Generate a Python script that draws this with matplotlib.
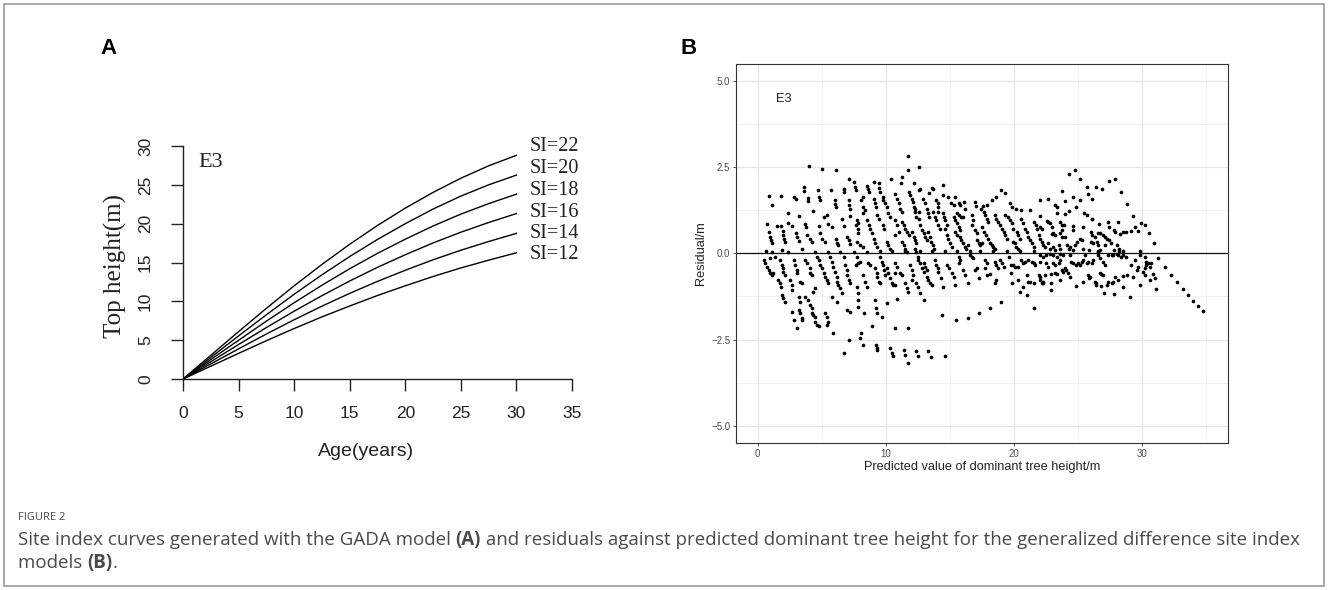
import matplotlib
matplotlib.use("Agg")
import matplotlib.pyplot as plt
from matplotlib.patches import Rectangle
import numpy as np

# ── panel A: site index curves (top height by age) ───────────────────────────
ages = [0, 2.5, 5, 7.5, 10, 12.5, 15, 17.5, 20, 22.5, 25, 27.5, 30]
si_levels = [22, 20, 18, 16, 14, 12]
si_22 = [0, 3.05, 6.1, 9.1, 12.0, 14.75, 17.35, 19.77, 22.0, 24.03, 25.85, 27.45, 28.8]
si_20 = [0, 2.77, 5.55, 8.27, 10.91, 13.41, 15.77, 17.97, 20.0, 21.88, 23.55, 25.0, 26.25]
si_18 = [0, 2.5, 4.99, 7.45, 9.82, 12.07, 14.2, 16.18, 18.0, 19.7, 21.23, 22.58, 23.8]
si_16 = [0, 2.22, 4.44, 6.62, 8.73, 10.73, 12.62, 14.38, 16.0, 17.52, 18.9, 20.15, 21.3]
si_14 = [0, 1.94, 3.88, 5.79, 7.63, 9.38, 11.03, 12.57, 14.0, 15.35, 16.58, 17.7, 18.75]
si_12 = [0, 1.65, 3.3, 4.93, 6.5, 8.0, 9.4, 10.75, 12.0, 13.2, 14.3, 15.3, 16.25]

# ── panel B: residuals vs predicted dominant height ────
resid_low_up = [
    (4.0, 2.53), (5.05, 2.46), (6.1, 2.43), (7.1, 2.15), (7.5, 2.08), (9.1, 2.08), (9.5, 2.05), (10.4, 2.17),
    (3.6, 1.91), (3.65, 1.82), (4.7, 1.83), (5.7, 1.85), (6.7, 1.86), (6.75, 1.79), (7.6, 1.91), (7.7, 1.84),
    (8.5, 1.96), (8.6, 1.86), (8.7, 1.79), (9.5, 1.90), (9.55, 1.79),
    (0.9, 1.66), (1.85, 1.67), (2.85, 1.64), (2.95, 1.59), (3.9, 1.61), (3.95, 1.52), (4.8, 1.64), (4.85, 1.55),
    (6.0, 1.55), (6.05, 1.42), (6.1, 1.34), (7.15, 1.54), (7.15, 1.40), (7.2, 1.30), (8.2, 1.64), (8.1, 1.54),
    (8.25, 1.35), (8.4, 1.26), (9.1, 1.57), (9.15, 1.45), (9.2, 1.33), (9.75, 1.64), (9.8, 1.55), (9.95, 1.45),
    (10.1, 1.35), (1.15, 1.40), (4.3, 1.22), (2.35, 1.16), (3.25, 1.07), (5.2, 1.06), (5.4, 1.11), (6.55, 1.01),
    (7.2, 1.09), (7.75, 0.97), (7.85, 0.87), (8.25, 1.16), (8.5, 0.97), (9.3, 1.11), (9.45, 1.01), (10.15, 1.16),
    (10.3, 1.06), (0.7, 0.84), (1.5, 0.80), (1.8, 0.78), (2.4, 0.88), (2.7, 0.79), (3.7, 0.85), (3.8, 0.77),
    (4.75, 0.79), (5.45, 0.84), (5.8, 0.77), (6.75, 0.80), (7.7, 0.82), (7.8, 0.72), (7.85, 0.58), (8.7, 0.82),
    (8.8, 0.72), (8.9, 0.58), (9.8, 0.82), (9.9, 0.72),
    (0.9, 0.61), (0.95, 0.48), (1.0, 0.39), (1.1, 0.29), (1.95, 0.65), (2.0, 0.53), (2.05, 0.43), (2.15, 0.32),
    (2.95, 0.58), (3.05, 0.48), (3.2, 0.37), (3.85, 0.53), (4.1, 0.43), (4.2, 0.34), (4.9, 0.58), (5.0, 0.43),
    (5.25, 0.34), (6.1, 0.41), (6.2, 0.31), (6.3, 0.24), (6.95, 0.48), (7.1, 0.39), (7.2, 0.26), (7.75, 0.34),
    (8.0, 0.24), (8.2, 0.19), (9.05, 0.43), (9.15, 0.29), (9.3, 0.19), (10.1, 0.34), (10.2, 0.24), (10.35, 0.14),
    (0.65, 0.07), (1.15, 0.03), (1.9, 0.10), (2.4, 0.05), (3.45, 0.14), (4.5, 0.05), (5.5, 0.05), (6.45, 0.05),
    (7.5, 0.05), (8.5, 0.05), (9.55, 0.07), (10.45, 0.07),
]
resid_low_down = [
    (0.5, -0.19), (0.55, -0.29), (0.7, -0.39), (0.85, -0.48), (0.95, -0.58), (1.1, -0.63), (1.2, -0.58),
    (0.95, -0.14), (1.35, -0.10), (1.75, -0.19), (1.9, -0.34), (1.95, -0.43), (2.0, -0.53), (2.15, -0.63),
    (1.6, -0.77), (1.7, -0.87), (1.8, -0.97), (1.9, -1.21), (2.0, -1.30), (2.15, -1.40),
    (2.55, -0.77), (2.65, -0.92), (2.65, -1.06), (2.65, -1.69), (2.85, -1.93), (3.1, -2.17),
    (2.8, -0.19), (2.9, -0.34), (3.05, -0.48), (3.05, -0.58), (3.3, -0.82), (3.45, -0.87), (3.2, -1.26),
    (3.3, -1.40), (3.2, -1.64), (3.3, -1.74), (3.45, -1.88), (3.45, -1.93),
    (3.7, -0.19), (3.85, -0.29), (4.05, -0.43), (4.1, -0.58), (4.2, -0.63), (3.7, -1.26), (3.95, -1.35),
    (4.1, -1.50), (4.2, -1.59), (4.2, -1.74), (4.35, -1.79), (4.5, -1.84), (4.5, -1.98), (4.6, -2.08),
    (4.75, -2.12), (4.35, -1.11), (4.5, -1.01),
    (4.6, -0.10), (4.75, -0.19), (4.85, -0.34), (5.0, -0.43), (5.15, -0.58), (5.25, -0.68), (5.4, -0.77),
    (5.5, -0.87), (5.25, -1.74), (5.4, -1.84), (5.5, -1.98), (5.4, -2.08), (5.8, -1.26), (5.9, -2.32),
    (5.65, -0.10), (5.8, -0.24), (5.9, -0.39), (6.05, -0.53), (6.2, -0.68), (6.2, -0.82), (6.3, -0.92),
    (6.45, -1.01), (6.55, -1.16), (6.2, -1.40),
    (6.7, -0.10), (6.8, -0.34), (6.95, -0.48), (6.95, -0.63), (7.1, -0.77), (7.2, -0.87), (6.95, -1.64),
    (7.2, -1.69), (7.1, -2.51), (6.7, -2.90),
    (7.75, -0.10), (7.7, -0.34), (7.85, -0.29), (8.0, -0.24), (7.75, -0.97), (7.85, -1.16), (7.85, -1.35),
    (7.85, -1.55), (8.25, -0.63), (8.4, -0.82), (8.5, -0.97), (8.3, -1.74), (8.1, -2.32), (8.0, -2.46),
    (8.25, -2.66), (8.65, -0.29), (8.8, -0.34), (8.9, -2.12), (9.15, -0.43), (9.3, -0.58), (9.3, -0.68),
    (9.45, -0.82), (9.55, -0.87), (9.15, -1.35), (9.25, -1.59), (9.3, -1.74), (9.7, -1.84), (9.25, -2.66),
    (9.3, -2.75), (9.35, -2.80), (9.55, -0.10), (9.7, -0.24), (9.8, -0.34), (9.85, -0.48), (9.95, -0.63),
    (10.1, -0.43), (10.2, -0.58), (10.35, -0.72), (10.45, -0.87), (10.6, -0.92), (10.1, -1.45),
    (10.35, -2.75), (10.45, -2.90), (10.55, -2.99),
]
resid_mid_up = [
    (11.7, 2.83), (11.7, 2.43), (12.6, 2.49), (11.3, 2.22), (11.2, 2.05), (12.2, 2.03), (11.8, 1.79),
    (12.6, 1.84), (12.7, 1.86), (13.6, 1.90), (13.7, 1.86), (13.4, 1.76), (14.5, 1.99), (14.5, 1.69),
    (14.9, 1.64), (15.4, 1.62), (15.1, 1.45), (15.3, 1.40), (15.7, 1.45), (15.8, 1.40), (16.1, 1.48),
    (16.2, 1.30), (17.0, 1.50), (17.05, 1.37), (17.45, 1.30), (17.6, 1.37), (17.9, 1.40), (18.3, 1.55),
    (18.6, 1.64), (19.0, 1.84), (19.3, 1.74), (19.7, 1.45), (19.85, 1.35), (20.2, 1.30), (20.6, 1.26),
    (21.3, 1.26),
    (10.7, 1.71), (10.85, 1.59), (11.0, 1.45), (11.1, 1.30), (11.25, 1.21), (11.9, 1.69), (12.05, 1.59),
    (12.1, 1.48), (12.2, 1.35), (12.25, 1.21), (12.9, 1.59), (13.1, 1.45), (13.2, 1.30), (13.3, 1.16),
    (13.4, 1.06), (13.95, 1.55), (14.1, 1.45), (14.05, 1.35), (14.1, 1.21), (13.7, 1.21), (13.85, 1.06),
    (13.95, 0.97), (14.1, 0.82), (14.25, 0.72), (12.3, 1.30), (12.4, 1.06),
    (11.25, 0.92), (11.4, 0.82), (11.5, 0.72), (11.65, 0.63), (11.8, 0.53), (10.7, 0.97), (10.85, 0.82),
    (11.0, 0.63), (10.7, 0.53), (12.6, 1.21), (12.6, 1.01), (12.7, 0.82), (12.8, 0.68), (12.95, 0.58),
    (13.1, 0.48), (13.2, 0.39), (12.05, 0.63), (12.2, 0.48), (12.3, 0.39), (12.35, 0.29), (11.25, 0.34),
    (11.4, 0.24), (11.5, 0.14), (11.65, 0.05), (12.3, 0.14), (12.4, 0.05),
    (13.3, 0.63), (13.45, 0.48), (13.5, 0.34), (13.7, 0.24), (13.8, 0.14), (14.5, 1.16), (14.55, 1.06),
    (14.65, 0.97), (14.8, 0.82), (14.65, 0.72), (14.8, 0.53), (14.9, 0.43), (15.0, 0.29), (15.15, 0.19),
    (15.3, 1.06), (15.4, 0.97), (15.55, 0.87), (15.7, 0.77), (15.8, 0.68), (15.55, 1.16), (15.7, 1.11),
    (15.9, 1.06), (16.05, 1.06), (15.4, 0.63), (15.55, 0.53), (15.8, 0.48), (15.9, 0.39), (16.05, 0.29),
    (16.2, 0.19), (16.3, 0.14), (16.45, 0.24),
    (16.7, 1.11), (16.85, 0.97), (16.7, 0.82), (17.0, 0.68), (17.1, 0.58), (17.1, 0.39), (17.25, 0.29),
    (17.35, 0.24), (17.5, 0.29), (17.65, 1.21), (17.75, 1.11), (17.9, 1.01), (18.0, 0.92), (17.5, 0.77),
    (17.65, 0.63), (17.8, 0.53), (18.0, 0.43), (18.15, 0.29), (18.3, 0.24), (18.4, 0.19), (18.55, 0.14),
    (18.55, 1.11), (18.65, 1.01), (18.8, 0.92), (18.9, 0.82), (19.05, 0.72), (19.2, 0.63), (19.3, 0.53),
    (19.45, 0.43), (19.3, 1.11), (19.55, 1.06), (19.7, 0.97), (19.85, 0.87), (19.95, 0.34), (20.1, 0.29),
    (20.2, 0.19), (20.35, 0.14), (19.95, 0.72), (20.25, 0.63), (20.35, 0.53), (20.5, 0.43),
    (20.6, 1.01), (20.75, 0.87), (20.9, 0.72), (21.0, 0.61), (21.15, 0.48), (21.3, 0.39), (21.4, 0.29),
    (21.55, 0.19), (21.55, 0.92), (21.7, 0.82), (21.8, 0.72), (21.95, 0.53), (22.05, 0.43), (22.2, 0.34),
    (11.5, 0.07), (12.7, 0.07), (13.6, 0.07), (14.6, 0.07), (15.55, 0.07), (16.6, 0.07), (17.35, 0.07),
    (18.4, 0.07), (19.45, 0.07), (20.5, 0.07), (21.55, 0.07),
]
resid_mid_down = [
    (10.7, -0.29), (10.85, -0.39), (10.7, -0.58), (11.1, -0.58), (11.25, -0.63), (10.7, -0.92),
    (11.5, -0.87), (11.65, -1.01), (11.7, -1.11), (10.85, -1.33), (10.7, -2.17), (11.7, -2.17),
    (11.9, -0.34), (12.05, -0.48), (12.1, -0.63), (12.05, -0.77), (12.4, -0.87), (12.55, -0.97),
    (12.7, -1.16), (12.95, -1.35), (12.55, -0.10), (12.55, -0.19), (12.7, -0.29), (12.8, -0.43),
    (12.95, -0.53), (13.2, -0.68), (13.3, -0.77), (13.45, -0.87), (13.6, -0.92), (12.95, -0.29),
    (13.1, -0.39), (13.2, -0.48),
    (13.85, -0.19), (13.95, -0.34), (14.05, -0.43), (14.1, -0.53), (14.35, -0.72), (14.5, -0.97),
    (14.4, -1.79), (14.8, -0.34), (14.95, -0.43), (15.15, -0.58), (15.3, -0.68), (15.4, -0.92),
    (15.5, -1.93), (15.7, -0.10), (15.8, -0.19), (15.7, -0.29), (16.05, -0.48), (16.2, -0.63),
    (16.4, -0.87), (16.4, -1.87), (16.6, -0.05), (16.7, -0.10), (16.85, -0.14), (16.95, -0.48),
    (17.1, -0.43), (17.25, -0.72), (17.3, -1.74),
    (17.75, -0.19), (17.9, -0.29), (17.75, -0.43), (17.9, -0.63), (18.15, -0.60), (18.15, -1.59),
    (18.55, -0.24), (18.65, -0.34), (18.8, -0.43), (18.55, -0.87), (18.65, -0.77), (19.0, -1.42),
    (18.9, -0.19), (19.05, -0.29), (19.2, -0.39), (19.6, -0.10), (19.75, -0.34), (19.75, -0.58),
    (19.85, -0.87), (19.95, -0.34), (20.1, -0.39), (20.35, -0.39), (20.35, -0.77), (20.5, -1.11),
    (20.75, -0.97), (21.0, -1.21), (20.6, -0.19), (20.75, -0.29), (20.9, -0.24), (21.15, -0.19),
    (21.4, -0.24), (21.55, -0.29), (21.65, -0.34), (21.0, -0.63), (21.15, -0.82), (21.3, -0.82),
    (21.55, -0.87), (21.95, -0.63), (22.05, -0.77), (22.2, -0.87), (21.6, -1.59),
    (11.4, -2.80), (11.5, -2.95), (11.75, -3.19), (12.4, -2.82), (12.55, -2.99), (13.3, -2.82),
    (13.5, -3.01), (14.6, -2.99),
]
resid_high_up = [
    (24.3, 2.29), (24.8, 2.42), (25.2, 2.15), (27.45, 2.11), (27.95, 2.15), (25.7, 1.91), (26.4, 1.91),
    (26.9, 1.88), (28.4, 1.79), (23.75, 1.82), (25.8, 1.71), (26.15, 1.59), (22.7, 1.59), (22.05, 1.55),
    (24.65, 1.64), (24.0, 1.53), (25.2, 1.55), (28.85, 1.42),
    (23.2, 1.40), (23.35, 1.35), (24.9, 1.33), (24.3, 1.24), (24.0, 1.14), (23.35, 1.16), (25.5, 1.16),
    (22.05, 1.09), (29.35, 1.08), (26.15, 1.00), (28.15, 0.92),
    (22.6, 0.95), (22.7, 0.92), (22.85, 0.87), (23.0, 0.77), (23.6, 0.92), (23.75, 0.82), (23.95, 0.82),
    (24.65, 0.79), (24.6, 0.68), (25.45, 0.77), (26.7, 0.85), (27.45, 0.77), (29.95, 0.89), (30.25, 0.82),
    (29.5, 0.75), (29.7, 0.66), (29.2, 0.65), (28.75, 0.63), (28.3, 0.55), (28.5, 0.61), (27.8, 0.68),
    (27.9, 0.61), (30.6, 0.58),
    (22.05, 0.77), (22.2, 0.72), (23.0, 0.55), (23.1, 0.58), (23.25, 0.53), (23.6, 0.58), (23.75, 0.48),
    (24.0, 0.48), (25.2, 0.43), (25.3, 0.39), (24.95, 0.34), (24.8, 0.24), (26.0, 0.63), (26.1, 0.53),
    (26.35, 0.48), (26.6, 0.58), (26.75, 0.58), (27.0, 0.53), (27.15, 0.48), (27.3, 0.43), (27.45, 0.39),
    (27.6, 0.29), (27.15, 0.24), (30.95, 0.29),
    (26.0, 0.34), (26.2, 0.29), (26.5, 0.34), (26.6, 0.24), (22.3, 0.24), (22.45, 0.19), (22.7, 0.29),
    (22.85, 0.14), (23.1, 0.19), (23.25, 0.10), (23.5, 0.24), (23.6, 0.14), (24.15, 0.24), (24.3, 0.14),
    (24.4, 0.19), (24.65, 0.10), (25.45, 0.14), (25.85, 0.10), (26.6, 0.07), (26.75, 0.10), (27.8, 0.10),
    (28.2, 0.07), (28.5, 0.07), (29.9, 0.07), (28.05, 0.24), (28.2, 0.14), (27.4, 0.92), (26.1, 1.01),
    (25.7, 1.11), (23.75, 0.68),
]
resid_high_down = [
    (22.05, -0.05), (22.3, -0.10), (22.55, -0.05), (22.85, -0.02), (23.1, -0.05), (23.35, -0.10),
    (23.6, -0.02), (23.85, -0.05), (22.05, -0.24), (22.55, -0.29), (22.7, -0.39), (23.1, -0.29),
    (23.2, -0.34), (23.5, -0.29), (23.6, -0.19), (22.05, -0.68), (22.45, -0.63), (22.95, -0.60),
    (23.2, -0.58), (23.35, -0.60), (22.3, -0.82), (22.3, -0.87), (22.95, -0.87), (22.9, -1.06),
    (23.65, -0.77), (23.75, -0.48), (23.85, -0.53), (24.0, -0.43), (24.1, -0.48), (24.25, -0.58),
    (24.4, -0.68), (24.4, -0.05), (24.5, -0.24), (24.65, -0.29), (24.9, -0.34), (25.05, -0.29),
    (25.15, -0.34), (25.3, -0.24), (25.45, -0.19), (25.55, -0.05), (25.7, -0.29), (25.8, -0.24),
    (26.1, -0.29), (26.2, -0.19), (24.85, -0.94), (25.4, -0.84), (25.8, -0.63), (25.9, -0.72),
    (25.95, -0.68), (26.35, -0.82), (26.4, -0.87), (26.45, -0.92), (26.75, -0.58), (26.85, -0.60),
    (27.0, -0.63), (26.8, -0.94), (27.05, -1.16), (27.25, -0.92), (27.4, -0.82), (27.65, -0.87),
    (27.75, -0.82), (26.6, 0.05), (26.6, -0.05), (26.75, -0.14), (27.0, -0.24), (27.1, -0.34),
    (27.4, -0.05), (27.65, -0.05), (27.75, -0.05), (28.15, -0.05), (28.4, -0.10), (28.55, -0.05),
    (28.8, -0.10), (27.9, -0.68), (28.15, -0.77), (28.5, -0.66), (28.5, -0.97), (28.85, -0.63),
    (29.2, -0.34), (29.3, -0.68), (29.45, -0.19), (29.65, -0.48), (29.7, -0.39), (29.85, -0.05),
    (29.9, -0.92), (30.1, -0.53), (30.25, -0.43), (30.25, -0.63), (30.3, -0.34), (30.5, -0.29),
    (30.65, -0.39), (30.75, -0.29), (30.65, -0.77), (30.85, -0.60), (31.0, -0.72), (31.1, -1.03),
    (30.25, -0.12), (30.35, -0.24), (31.3, -0.14), (31.8, -0.39), (32.3, -0.63), (32.75, -0.84),
    (33.2, -1.03), (33.6, -1.21), (34.0, -1.37), (34.4, -1.52), (34.8, -1.67), (27.8, -1.19),
    (29.1, -1.26), (28.05, -0.02),
]

W, H = 1328, 590
fig = plt.figure(figsize=(W / 100, H / 100), dpi=100)
fig.patch.set_facecolor("white")


def fx(px):
    return px / W


def fy(py):
    return 1 - py / H


# outer frame of the figure box
fig.patches.append(Rectangle((fx(4), fy(586)), fx(1320), 582 / H, transform=fig.transFigure,
                             fill=False, edgecolor="#9a9a9a", linewidth=1.2))

# ── panel A ──────────────────────────────────────────────────────────────────
axA = fig.add_axes([fx(183), fy(379), fx(389), 233 / H])
curves = [si_22, si_20, si_18, si_16, si_14, si_12]
for si, hts in zip(si_levels, curves):
    axA.plot(ages, hts, color="black", linewidth=1.0, solid_joinstyle="round")

label_y = [29.9, 27.1, 24.3, 21.5, 18.75, 16.0]
for si, ly in zip(si_levels, label_y):
    axA.text(31.2, ly, f"SI={si}", family="Liberation Serif", fontsize=14.5,
             color="#222222", ha="left", va="center", clip_on=False)
axA.text(1.4, 27.9, "E3", family="Liberation Serif", fontsize=16, color="#222222",
         ha="left", va="center")

axA.set_xlim(0, 35)
axA.set_ylim(0, 30)
axA.set_xticks(range(0, 36, 5))
axA.set_yticks(range(0, 31, 5))
for side in ("top", "right"):
    axA.spines[side].set_visible(False)
for side in ("left", "bottom"):
    axA.spines[side].set_linewidth(1.0)
    axA.spines[side].set_color("#222222")
axA.tick_params(axis="both", length=8.6, width=1.0, color="#222222", labelsize=12.5,
                labelcolor="#222222")
axA.tick_params(axis="x", pad=11)
axA.tick_params(axis="y", pad=13, labelrotation=90)
for lab in axA.get_yticklabels() + axA.get_xticklabels():
    lab.set_family("Liberation Sans")
for lab in axA.get_yticklabels():
    lab.set_verticalalignment("center")

fig.text(fx(115), fy(266), "Top height(m)", rotation=90, family="Liberation Serif",
         fontsize=18, color="#222222", ha="center", va="center")
fig.text(fx(366), fy(452), "Age(years)", family="Liberation Sans", fontsize=14,
         color="#222222", ha="center", va="center")

# ── panel B ──────────────────────────────────────────────────────────────────
axB = fig.add_axes([fx(736), fy(442.7), fx(492), 378.7 / H])
pts = np.array(resid_low_up + resid_low_down + resid_mid_up + resid_mid_down
               + resid_high_up + resid_high_down)
axB.set_axisbelow(True)
axB.grid(True, which="major", color="#e6e6e6", linewidth=0.9)
axB.grid(True, which="minor", color="#f0f0f0", linewidth=0.6)
axB.axhline(0, color="#111111", linewidth=0.9, zorder=2)
axB.scatter(pts[:, 0], pts[:, 1], s=7, color="black", linewidths=0, zorder=3)

axB.set_xlim(-1.7, 36.74)
axB.set_ylim(-5.49, 5.49)
axB.set_xticks([0, 10, 20, 30])
axB.set_xticks([5, 15, 25, 35], minor=True)
axB.set_yticks([-5, -2.5, 0, 2.5, 5])
axB.set_yticks([-3.75, -1.25, 1.25, 3.75], minor=True)
axB.set_yticklabels(["\u22125.0", "\u22122.5", "0.0", "2.5", "5.0"])
axB.tick_params(which="minor", length=0)
axB.tick_params(which="major", length=2.2, width=0.6, color="#333333", labelsize=7,
                labelcolor="#4d4d4d", pad=2)
for lab in axB.get_yticklabels() + axB.get_xticklabels():
    lab.set_family("Liberation Sans")
for sp in axB.spines.values():
    sp.set_color("#333333")
    sp.set_linewidth(0.8)
axB.text(2.04, 4.47, "E3", family="Liberation Sans", fontsize=9.2, color="#222222",
         ha="center", va="center")

fig.text(fx(701), fy(253.3), "Residual/m", rotation=90, family="Liberation Sans",
         fontsize=9.2, color="#222222", ha="center", va="center")
fig.text(fx(982.5), fy(467), "Predicted value of dominant tree height/m",
         family="Liberation Sans", fontsize=9.2, color="#222222", ha="center", va="center")

# panel letters
fig.text(fx(109), fy(48.5), "A", family="Liberation Sans", fontweight="bold",
         fontsize=16, color="black", ha="center", va="center")
fig.text(fx(689), fy(48.5), "B", family="Liberation Sans", fontweight="bold",
         fontsize=16, color="black", ha="center", va="center")

# ── caption ──────────────────────────────────────────────────────────────────
cap_color = "#4a4a4a"
fig.text(fx(18), fy(517.5), "FIGURE 2", family="Open Sans", fontsize=8,
         color=cap_color, ha="left", va="center")


def draw_runs(x_px, y_px, runs, size):
    renderer = fig.canvas.get_renderer()
    x = x_px
    for txt, weight in runs:
        t = fig.text(fx(x), fy(y_px), txt, family="Open Sans", fontsize=size,
                     fontweight=weight, color=cap_color, ha="left", va="baseline")
        x += t.get_window_extent(renderer).width


cap_size = 13.5
draw_runs(18, 545, [("Site index curves generated with the GADA model ", "normal"),
                    ("(A)", "bold"),
                    (" and residuals against predicted dominant tree height for the "
                     "generalized difference site index", "normal")], cap_size)
draw_runs(18, 568, [("models ", "normal"), ("(B)", "bold"), (".", "normal")], cap_size)

fig.savefig("out.png", dpi=100)
